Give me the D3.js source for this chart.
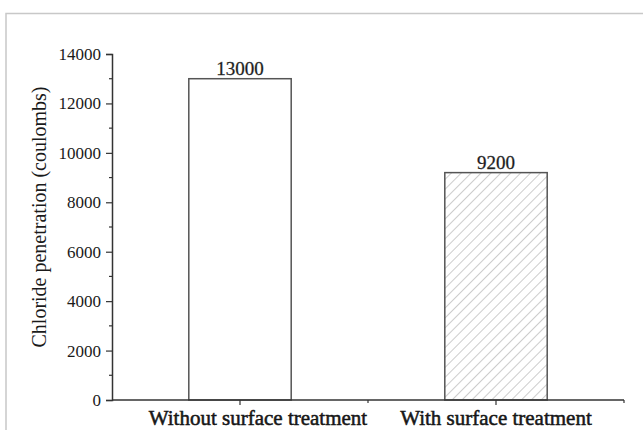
<!DOCTYPE html>
<html>
<head>
<meta charset="utf-8">
<script src="https://cdn.jsdelivr.net/npm/d3@7/dist/d3.min.js"></script>
<style>
  html, body { margin: 0; padding: 0; background: #fff; }
  svg { display: block; }
  svg text { font-family: "Liberation Serif", "Times New Roman", serif !important; fill: #1a1a1a; }
</style>
</head>
<body>
<svg id="chart" width="643" height="430"></svg>
<script>
// Chloride penetration data
const categories = ["Without surface treatment", "With surface treatment"];
const values = [13000, 9200];
const hatched = [false, true];
const yMajorTicks = [0, 2000, 4000, 6000, 8000, 10000, 12000, 14000];
const yMinorTicks = [1000, 3000, 5000, 7000, 9000, 11000, 13000];
const yTitle = "Chloride penetration (coulombs)";

const svg = d3.select("#chart");
const W = 643, H = 430;
const margin = { left: 112, right: 19, top: 54, bottom: 30 };
const x0 = margin.left, x1 = W - margin.right;
const yTop = margin.top, yBot = H - margin.bottom;

// outer frame (top + left edges)
svg.append("path")
  .attr("d", `M6,${H} L6,13.5 L${W},13.5`)
  .attr("fill", "none").attr("stroke", "#c8c8c8").attr("stroke-width", 1.5);

// hatch pattern
const defs = svg.append("defs");
const pat = defs.append("pattern")
  .attr("id", "hatch").attr("patternUnits", "userSpaceOnUse")
  .attr("width", 7).attr("height", 7)
  .attr("patternTransform", "rotate(45)");
pat.append("line").attr("x1", 0).attr("y1", 0).attr("x2", 0).attr("y2", 7)
  .attr("stroke", "#9a9a9a").attr("stroke-width", 1);

const x = d3.scaleBand().domain(categories).range([x0, x1])
  .paddingInner(0.6).paddingOuter(0.3);
const y = d3.scaleLinear().domain([0, 14000]).range([yBot, yTop]);

// bars
svg.selectAll("rect.bar").data(categories).join("rect")
  .attr("class", "bar")
  .attr("x", d => x(d))
  .attr("y", (d, i) => y(values[i]))
  .attr("width", x.bandwidth())
  .attr("height", (d, i) => y(0) - y(values[i]))
  .attr("fill", (d, i) => hatched[i] ? "url(#hatch)" : "#fff")
  .attr("stroke", "#555").attr("stroke-width", 1.5);

// value labels
svg.selectAll("text.val").data(categories).join("text")
  .attr("class", "val")
  .attr("x", d => x(d) + x.bandwidth() / 2)
  .attr("y", (d, i) => y(values[i]) - 4)
  .attr("text-anchor", "middle")
  .style("font-size", "19px")
  .attr("stroke", "#333").attr("stroke-width", 0.3)
  .text((d, i) => values[i]);

// y axis
const yAxis = d3.axisLeft(y).tickValues(yMajorTicks).tickSize(6).tickPadding(5)
  .tickFormat(d3.format("d"));
const gy = svg.append("g").attr("transform", `translate(${x0},0)`).call(yAxis)
  .attr("font-family", null).attr("font-size", null);
gy.select(".domain").attr("stroke", "#333").attr("stroke-width", 1.5);
gy.selectAll(".tick line").attr("stroke", "#333").attr("stroke-width", 1.2);
gy.selectAll(".tick text").style("font-size", "17px").attr("fill", "#333");
svg.append("g").selectAll("line").data(yMinorTicks).join("line")
  .attr("x1", x0 - 3).attr("x2", x0)
  .attr("y1", d => y(d)).attr("y2", d => y(d))
  .attr("stroke", "#333").attr("stroke-width", 1.2);

// x axis
const gx = svg.append("g").attr("transform", `translate(0,${yBot})`);
gx.append("line").attr("x1", x0).attr("x2", x1).attr("y1", 0).attr("y2", 0)
  .attr("stroke", "#333").attr("stroke-width", 1.5);
const centers = categories.map(c => x(c) + x.bandwidth() / 2);
gx.selectAll("line.maj").data(centers).join("line").attr("class", "maj")
  .attr("x1", d => d).attr("x2", d => d).attr("y1", 0).attr("y2", 5)
  .attr("stroke", "#333").attr("stroke-width", 1.2);
const minorX = [(x0 + x1) / 2, x1];
gx.selectAll("line.min").data(minorX).join("line").attr("class", "min")
  .attr("x1", d => d).attr("x2", d => d).attr("y1", 0).attr("y2", 3)
  .attr("stroke", "#333").attr("stroke-width", 1.2);
// category labels; the first one sits a little right of its bar
const labelShift = [18, 0];
gx.selectAll("text").data(categories).join("text")
  .attr("x", (d, i) => x(d) + x.bandwidth() / 2 + labelShift[i])
  .attr("y", 25)
  .attr("text-anchor", "middle")
  .style("font-size", "21px")
  .attr("stroke", "#111").attr("stroke-width", 0.5)
  .text(d => d);

// y title
svg.append("text")
  .attr("transform", `translate(46,217) rotate(-90)`)
  .attr("text-anchor", "middle")
  .style("font-size", "20px")
  .text(yTitle);
</script>
</body>
</html>
